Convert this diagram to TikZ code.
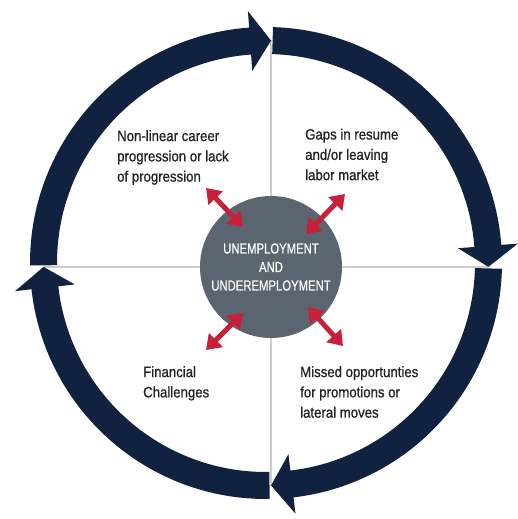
\documentclass[tikz,border=0pt]{standalone}
\usepackage{fontspec}
\setmainfont{Liberation Sans}
\newfontfamily\labfont[FakeStretch=0.88,FakeBold=0.8]{Liberation Sans}
\newfontfamily\ctrfont[FakeStretch=0.78,FakeBold=0.5]{Liberation Sans}
\usetikzlibrary{arrows.meta}
\definecolor{ringcol}{HTML}{10223F}
\definecolor{ctrcol}{HTML}{5B6570}
\definecolor{redcol}{HTML}{C8203A}
\definecolor{gridcol}{HTML}{CDCDCD}
\definecolor{txtcol}{HTML}{222222}
\newcommand\ringseg[3]{%
  \fill[ringcol] (#1:236pt) arc[start angle=#1, end angle=#2, radius=236pt]
    -- (#2:252.5pt) -- (#3:222.5pt) -- (#2:192.5pt) -- (#2:209pt)
    arc[start angle=#2, end angle=#1, radius=209pt] -- cycle;}
\begin{document}
\begin{tikzpicture}[x=1pt,y=1pt,
  lab/.style={font=\labfont\fontsize{15}{20.3}\selectfont, text=txtcol, align=left, anchor=north west, inner sep=0pt},
  dbl/.style={draw=redcol, line width=5pt, {Triangle[length=14pt,width=19pt]}-{Triangle[length=14pt,width=19pt]}},
  grid/.style={draw=gridcol, line width=1.5pt}]
\useasboundingbox (0,0) rectangle (517,519);
% crosshair
\coordinate (ttop) at (271,479);
\coordinate (tbot) at (271,33);
\coordinate (tleft) at (44,252);
\coordinate (tright) at (488,252);
\draw[grid] (ttop) -- (tbot);
\draw[grid] (tleft) -- (tright);
% ring
\begin{scope}[shift={(266,256)}]
  \ringseg{88.3}{4.4}{-1.0}
  \ringseg{-1.4}{-83.3}{-88.7}
  \ringseg{-89.1}{-173.6}{-179.0}
  \ringseg{180.6}{94.1}{88.7}
\end{scope}
% centre
\node[circle, fill=ctrcol, minimum size=142pt, inner sep=0pt, text=white,
  font=\ctrfont\fontsize{14.5}{18.5}\selectfont, align=center] (c) at (271,252)
  {UNEMPLOYMENT\\AND\\UNDEREMPLOYMENT};
% labels
\node[lab] (tl) at (117,389) {Non-linear career\\progression or lack\\of progression};
\node[lab] (tr) at (305,390.5) {Gaps in resume\\and/or leaving\\labor market};
\node[lab] (bl) at (143,153) {Financial\\Challenges};
\node[lab] (br) at (300,153) {Missed opportunties\\for promotions or\\lateral moves};
% red arrows
\coordinate (a1o) at (206,331); \coordinate (a1i) at (243,292);
\coordinate (a2o) at (345,325); \coordinate (a2i) at (306,285);
\coordinate (a3o) at (206,169); \coordinate (a3i) at (243,206);
\coordinate (a4o) at (343,173); \coordinate (a4i) at (308,212);
\draw[dbl] (a1o) -- (a1i);
\draw[dbl] (a2o) -- (a2i);
\draw[dbl] (a3o) -- (a3i);
\draw[dbl] (a4o) -- (a4i);
\end{tikzpicture}
\end{document}
